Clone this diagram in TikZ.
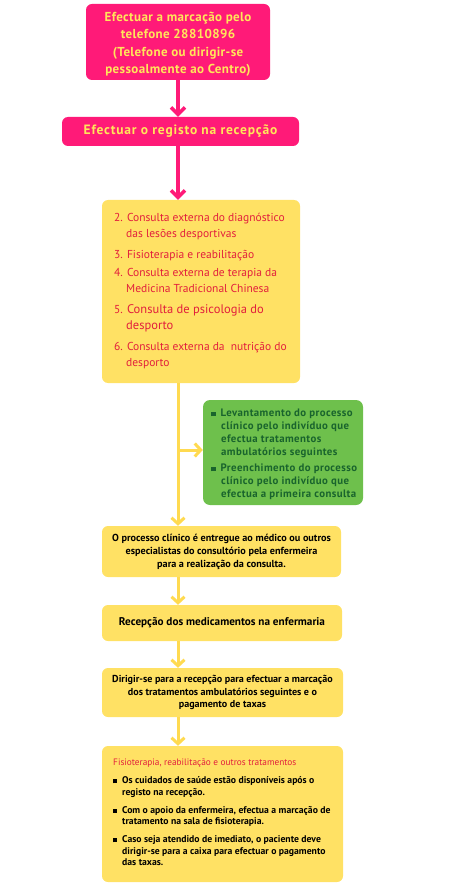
\documentclass[tikz,border=0pt]{standalone}
\usepackage{fontspec}
\setmainfont{PT Sans}
\usetikzlibrary{arrows.meta,positioning}

\definecolor{rosa}{RGB}{255,26,120}
\definecolor{amarelo}{RGB}{255,225,100}
\definecolor{setaam}{RGB}{255,218,80}
\definecolor{letraam}{RGB}{255,230,90}
\definecolor{vermelho}{RGB}{226,30,60}
\definecolor{verde}{RGB}{110,192,76}
\definecolor{verdeesc}{RGB}{25,100,45}

\newcommand{\qpreto}{\rule[0.5pt]{4pt}{4pt}}
\newcommand{\qverde}{\textcolor{verdeesc}{\rule[0.5pt]{4.5pt}{4.5pt}}}

\tikzset{
  caixarosa/.style={fill=rosa, rounded corners=6pt, text=letraam, align=center, inner sep=0pt},
  caixaam/.style={fill=amarelo, rounded corners=6pt, align=center, inner sep=0pt},
  setarosa/.style={draw=rosa, line width=4pt, -{Straight Barb[length=7pt,width=14pt,line width=3.5pt]}},
  setaam/.style={draw=setaam, line width=3pt, -{Straight Barb[length=6pt,width=13pt,line width=3pt]}},
}

\begin{document}
\begin{tikzpicture}[x=1pt,y=-1pt]
\useasboundingbox (0,0) rectangle (461,885);

% caixas cor de rosa
\node[caixarosa, minimum width=184pt, minimum height=76pt,
  font=\fontsize{13}{17.5}\selectfont\bfseries\addfontfeatures{LetterSpace=3}] (marcacao) at (178,42)
  {\rule{0pt}{14pt}Efectuar a marcação pelo\\telefone 28810896\\(Telefone ou dirigir-se\\pessoalmente ao Centro)};
\node[caixarosa, minimum width=237pt, minimum height=29pt,
  font=\fontsize{13.5}{15}\selectfont\bfseries\addfontfeatures{LetterSpace=6}] (registo) at (180.5,131.5)
  {Efectuar o registo na recepção};

% consultas
\node[caixaam, minimum width=198pt, minimum height=183pt] (consultas) at (201,291.5) {};
\node[anchor=north west, inner sep=0pt, text=vermelho, align=left,
  font=\fontsize{11.5}{16}\selectfont] (lista) at (114,213)
  {2. Consulta externa do diagnóstico\\\hspace*{12pt}das lesões desportivas\\[5pt]
   3. Fisioterapia e reabilitação\\[2pt]
   4. Consulta externa de terapia da\\\hspace*{12pt}Medicina Tradicional Chinesa\\[5pt]
   5. {\fontsize{12.5}{16}\selectfont Consulta de psicologia do}\\\hspace*{12pt}{\fontsize{12.5}{16}\selectfont desporto}\\[5pt]
   6. Consulta externa da\ \ nutrição do\\\hspace*{12pt}desporto};

% processo clinico
\node[fill=verde, rounded corners=7pt, minimum width=160pt, minimum height=105pt] (clinico) at (283,452.5) {};
\node[anchor=north west, inner sep=0pt, text=verdeesc, align=left,
  font=\fontsize{10.8}{13}\selectfont\bfseries\addfontfeatures{LetterSpace=4}] (levantamento) at (211,409)
  {\qverde\hspace{5pt}Levantamento do processo\\\hspace*{10pt}clínico pelo indivíduo que\\\hspace*{10pt}efectua tratamentos\\\hspace*{10pt}ambulatórios seguintes\\[3pt]
   \qverde\hspace{5pt}Preenchimento do processo\\\hspace*{10pt}clínico pelo indivíduo que\\\hspace*{10pt}efectua a primeira consulta};

\node[caixaam, minimum width=239pt, minimum height=51pt,
  font=\fontsize{10.2}{13}\selectfont\bfseries] (entrega) at (221.5,551.5)
  {O processo clínico é entregue ao médico ou outros\\especialistas do consultório pela enfermeira\\para a realização da consulta.};
\node[caixaam, minimum width=240pt, minimum height=36pt,
  font=\fontsize{11.2}{12}\selectfont\bfseries] (medicamentos) at (222,623)
  {Recepção dos medicamentos na enfermaria};
\node[caixaam, minimum width=241pt, minimum height=49pt,
  font=\fontsize{10.1}{12.5}\selectfont\bfseries] (pagamento) at (222.5,692.5)
  {Dirigir-se para a recepção para efectuar a marcação\\dos tratamentos ambulatórios seguintes e o\\pagamento de taxas};

% tratamentos
\node[caixaam, minimum width=241pt, minimum height=136pt] (tratamentos) at (222.5,814) {};
\node[anchor=north west, inner sep=0pt, align=left,
  font=\fontsize{9.7}{11.5}\selectfont\bfseries] (cuidados) at (113,759)
  {{\mdseries\color{vermelho}\fontsize{9.3}{11.5}\selectfont Fisioterapia, reabilitação e outros tratamentos}\\[6.5pt]
   \qpreto\hspace{5pt}Os cuidados de saúde estão disponíveis após o\\\hspace*{9pt}registo na recepção.\\[6.5pt]
   \qpreto\hspace{5pt}Com o apoio da enfermeira, efectua a marcação de\\\hspace*{9pt}tratamento na sala de fisioterapia.\\[6.5pt]
   \qpreto\hspace{5pt}Caso seja atendido de imediato, o paciente deve\\\hspace*{9pt}dirigir-se para a caixa para efectuar o pagamento\\\hspace*{9pt}das taxas.};

% setas
\coordinate (ramo) at (178,450);
\draw[setarosa] (marcacao.south) -- (marcacao.south |- registo.north);
\draw[setarosa] (marcacao.south |- registo.south) -- (marcacao.south |- consultas.north);
\draw[setaam] (marcacao.south |- consultas.south) -- (marcacao.south |- entrega.north);
\draw[setaam] (ramo) -- (clinico.west |- ramo);
\draw[setaam] (marcacao.south |- entrega.south) -- (marcacao.south |- medicamentos.north);
\draw[setaam] (marcacao.south |- medicamentos.south) -- (marcacao.south |- pagamento.north);
\draw[setaam] (marcacao.south |- pagamento.south) -- (marcacao.south |- tratamentos.north);
\end{tikzpicture}
\end{document}
